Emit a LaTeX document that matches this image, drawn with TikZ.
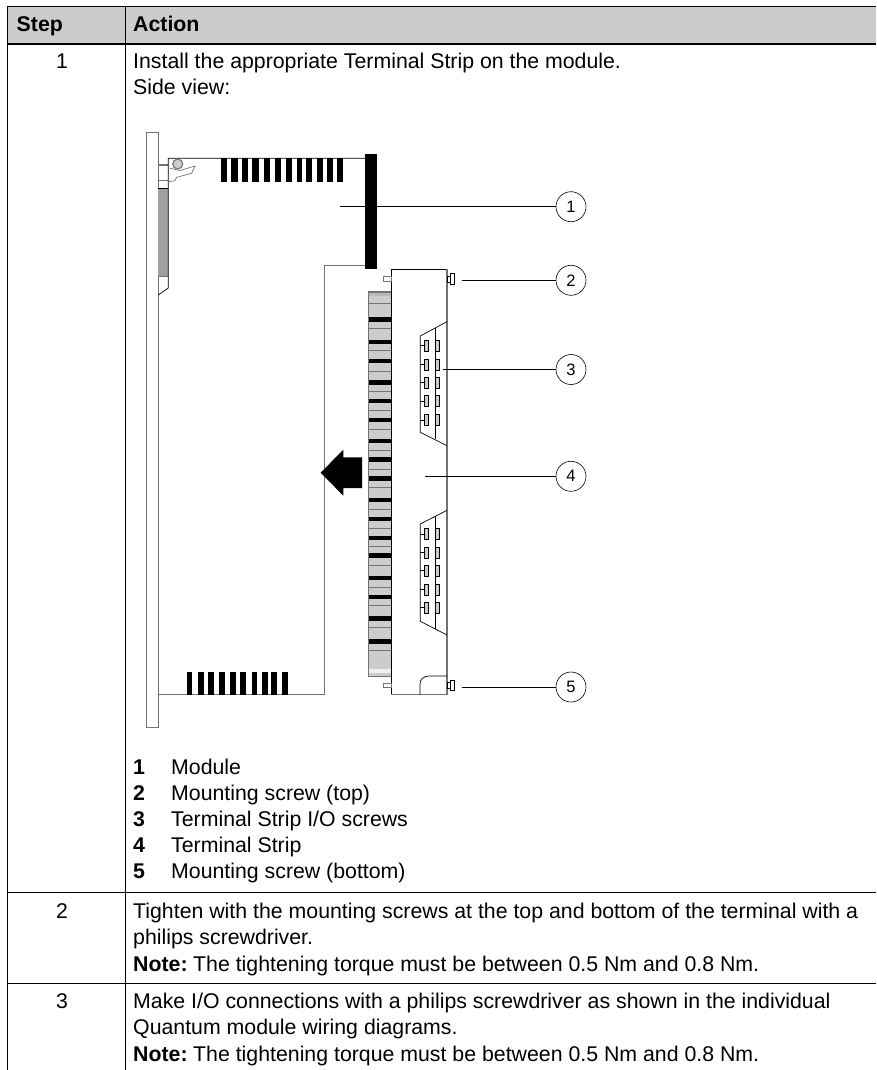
\documentclass[tikz,border=0pt]{standalone}
\usepackage{fontspec}
\setmainfont{Liberation Sans}
\definecolor{headgray}{gray}{0.8}
\definecolor{edgegray}{gray}{0.45}
\begin{document}
\begin{tikzpicture}[x=1pt, y=-1pt]

\tikzstyle{txt}=[anchor=base west, inner sep=0pt, font=\fontsize{21.3}{24}\selectfont]
\tikzstyle{num}=[anchor=base, inner sep=0pt, font=\fontsize{21.3}{24}\selectfont]
\tikzstyle{callout}=[circle, draw=black, line width=0.6pt, fill=white, minimum size=30pt, inner sep=0pt, font=\fontsize{16.5}{16.5}\selectfont]
\tikzstyle{rule}=[black, line width=1.1pt]
\tikzstyle{edge}=[edgegray, line width=1.1pt]
\tikzstyle{thin}=[black, line width=0.7pt]
\tikzstyle{leader}=[black, line width=0.8pt]
\tikzstyle{screw}=[draw=black, fill=headgray, line width=0.5pt]

\useasboundingbox (0,0) rectangle (876,1070);

% table
\fill [headgray] (7.5,6.5) rectangle (876,44);
\draw [rule] (876,6.5) -- (7.5,6.5) -- (7.5,1070);
\draw [rule] (125.5,6.5) -- (125.5,1070);
\draw [rule] (7.5,44) -- (876,44);
\draw [rule] (7.5,892.5) -- (876,892.5);
\draw [rule] (7.5,983.5) -- (876,983.5);

\node (stephead) [txt] at (16.5,31.5) {\textbf{Step}};
\node (actionhead) [txt] at (133,31.5) {\textbf{Action}};
\node (step1) [num] at (62,68.5) {1};
\node (step2) [num] at (62,918) {2};
\node (step3) [num] at (62,1008) {3};

\node (install) [txt] at (133,68.5) {Install the appropriate Terminal Strip on the module.};
\node (side) [txt] at (133,95) {Side view:};
\node (n1) [txt] at (133,774) {\textbf{1}};
\node (n2) [txt] at (133,800.2) {\textbf{2}};
\node (n3) [txt] at (133,826.4) {\textbf{3}};
\node (n4) [txt] at (133,852.6) {\textbf{4}};
\node (n5) [txt] at (133,878.8) {\textbf{5}};
\node (l1) [txt] at (171,774) {Module};
\node (l2) [txt] at (171,800.2) {Mounting screw (top)};
\node (l3) [txt] at (171,826.4) {Terminal Strip I/O screws};
\node (l4) [txt] at (171,852.6) {Terminal Strip};
\node (l5) [txt] at (171,878.8) {Mounting screw (bottom)};
\node (tight1) [txt] at (133,918) {Tighten with the mounting screws at the top and bottom of the terminal with a};
\node (tight2) [txt] at (133,944.5) {philips screwdriver.};
\node (tight3) [txt] at (133,971) {\textbf{Note:}\hspace{-2.3pt} The tightening torque must be between 0.5 Nm and 0.8 Nm.};
\node (make1) [txt] at (133,1008) {Make I/O connections with a philips screwdriver as shown in the individual};
\node (make2) [txt] at (133,1034.5) {Quantum module wiring diagrams.};
\node (make3) [txt] at (133,1061) {\textbf{Note:}\hspace{-2.3pt} The tightening torque must be between 0.5 Nm and 0.8 Nm.};

% module
\draw [edge] (146.7,132.7) rectangle (158.3,727.7);
\fill [gray!75] (158.3,188.3) rectangle (168.3,276.7);
\draw [thin] (158.3,188.3) -- (168.3,188.3);
\draw [edge] (158.3,165) -- (168.3,165);
\draw [edge] (158.3,180.7) -- (168.3,180.7);
\draw [edge] (158.3,276.7) -- (168.3,276.7);
\draw [thin] (365,158.3) -- (168.3,158.3) -- (168.3,288) -- (158.3,295);
\draw [edge, line width=0.7pt] (170,168.3) -- (180,170.5) -- (195,166) -- (191.7,173.3) -- (176.7,177.3) -- (175,180.7) -- (168.3,181.7);
\draw [edge, fill=headgray] (177.7,164) circle (5);
\draw [edge] (365,265.7) -- (324.3,265.7) -- (324.3,694.7) -- (158.3,694.7);
\fill (365,154) rectangle (377,269.3);
\foreach \a/\b in {221/227,231/237.7,242.3/248.3,252.3/259.3,264/270.3,275.3/281,285.7/292.3,297/302.3,306.3/312.3,317.3/323.3,326.7/332.7,337.3/343}
  \fill (\a+0,158.3) rectangle (\b+0,181.7);
\foreach \a/\b in {186.7/192.3,197.7/203.7,208.3/214.3,218.7/225.3,230/235.7,240.3/246.3,251.7/257.3,262/267.7,271.3/277.3,282/287.7}
  \fill (\a+0,671.7) rectangle (\b+0,694.7);

% terminal strip
\draw [edge, fill=headgray] (368.7,292) rectangle (391.3,676.7);
\fill [gray!55] (369.2,292.5) rectangle (391,295.5);
\fill [gray!12] (369.2,669) rectangle (391,673);
\foreach \a/\b in {317.3/321.7,340/344.3,358.7/363.3,380/384.7,399/403.3,417.7/422.3,438.7/443.3,457.3/462,476/480.7,497.7/502.3,516.7/521.3,535.7/540.3,553.3/558,575.7/580.3,594.7/599.3,616.3/621,639/643.7}
  \fill (368.7,\a+0) rectangle (391.3,\b+0);
\foreach \y in {303,328.3,350.7,371.7,391.7,410,429.3,450.7,469,487.7,509.3,528.3,546.7,565,587,605.7,627.7,650}
  \draw [edgegray, line width=0.8pt] (368.7,\y) -- (391.3,\y);
\draw [thin] (447,269.3) -- (391.3,269.3) -- (391.3,694.7);
\draw [edge] (391.3,694.7) -- (447,694.7) -- (447,269.3);
\draw [edge, line width=0.8pt] (383.3,276.7) rectangle (391,281);
\draw [edge, line width=0.8pt] (383.3,683.3) rectangle (391,687.3);
\draw [thin] (420,694.7) -- (420,684) .. controls (420,679) and (424,676) .. (429,676) -- (447,676);

% io screws
\draw [thin] (420.3,336) -- (447,321.7);
\draw [thin] (420.3,336) -- (420.3,432.3) -- (447,445.7);
\draw [thin] (435.7,327.7) -- (435.7,439);
\draw [thin] (420.3,524) -- (447,510.3);
\draw [thin] (420.3,524) -- (420.3,621.3) -- (447,635);
\draw [thin] (435.7,516) -- (435.7,629);
\foreach \y in {345.3,364.3,382.3,401,420,534,552.3,570.7,589.3,607.7} {
  \draw [thin] (420.3,\y) -- (424.3,\y);
  \draw [screw] (424.3,\y-5.5) rectangle (428.7,\y+5.5);
  \draw [screw] (435.7,\y-5.5) rectangle (439.7,\y+5.5);
}
\draw [thin] (447,276.7) rectangle (450.7,282.7);
\draw [thin] (450.7,273.3) rectangle (454.7,284.3);
\draw [thin] (447,682.3) rectangle (450.3,688.3);
\draw [thin] (450.3,680) rectangle (454.3,690.7);

% insert arrow
\fill (362,457.3) -- (343.3,457.3) -- (343.3,449.7) -- (320.7,472.7) -- (343.3,495.7) -- (343.3,488) -- (362,488) -- cycle;

% callouts
\node (C1) [callout] at (571,206.7) {1};
\node (C2) [callout] at (571,280.3) {2};
\node (C3) [callout] at (571,369.5) {3};
\node (C4) [callout] at (571,476.3) {4};
\node (C5) [callout] at (571,687) {5};

\coordinate (P1) at (340,206.7);
\coordinate (P2) at (461.7,280.3);
\coordinate (P3) at (443.3,369.5);
\coordinate (P4) at (425,476.3);
\coordinate (P5) at (461.7,687);

\draw [leader] (P1) -- (C1);
\draw [leader] (P2) -- (C2);
\draw [leader] (P3) -- (C3);
\draw [leader] (P4) -- (C4);
\draw [leader] (P5) -- (C5);

\end{tikzpicture}
\end{document}
